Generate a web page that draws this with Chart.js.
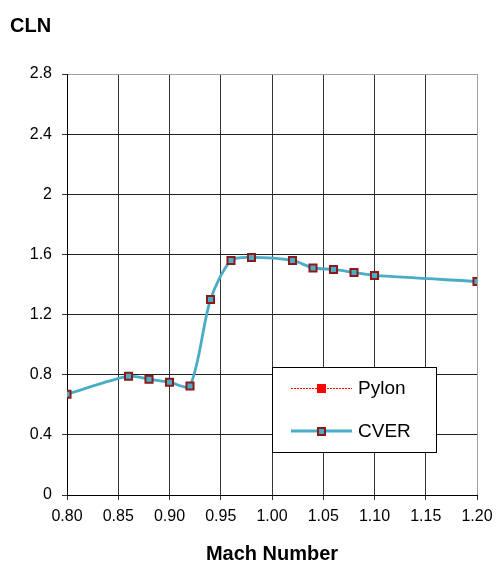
<!DOCTYPE html>
<html>
<head>
<meta charset="utf-8">
<script src="https://cdn.jsdelivr.net/npm/chart.js@4.4.1/dist/chart.umd.min.js"></script>
<style>
  html, body { margin: 0; padding: 0; background: #fff; }
  #wrap { width: 496px; height: 564px; position: relative; }
</style>
</head>
<body>
<div id="wrap"><canvas id="cln-chart"></canvas></div>
<script>
const machNumbers = [0.80, 0.86, 0.88, 0.90, 0.92, 0.94, 0.96, 0.98, 1.02, 1.04, 1.06, 1.08, 1.10, 1.20];
const cverValues = [0.67, 0.79, 0.77, 0.75, 0.725, 1.30, 1.56, 1.58, 1.56, 1.51, 1.50, 1.48, 1.46, 1.42];
const pylonValues = [];
const seriesNames = ["Pylon", "CVER"];

const cverColor = "#4bacc6";
const markerBorder = "#8b1a1a";
const pylonColor = "#ff0000";

// Titles drawn on canvas (CLN top left, Mach Number below x ticks)
const titlesPlugin = {
  id: "titles",
  afterDraw(chart) {
    const ctx = chart.ctx;
    ctx.save();
    ctx.fillStyle = "#000";
    ctx.font = "bold 20px 'Liberation Sans', Arial, sans-serif";
    ctx.textBaseline = "middle";
    ctx.textAlign = "left";
    ctx.fillText("CLN", 10, 26);
    ctx.textAlign = "center";
    ctx.fillText("Mach Number", 272, 554);
    ctx.restore();
  },
};

// Excel style legend box sitting inside the plot
const boxLegendPlugin = {
  id: "boxLegend",
  afterDraw(chart) {
    const ctx = chart.ctx;
    const x0 = 272, y0 = 367, w = 164, h = 85;
    ctx.save();
    ctx.fillStyle = "#fff";
    ctx.fillRect(x0, y0, w, h);
    ctx.strokeStyle = "#000";
    ctx.lineWidth = 1;
    ctx.strokeRect(x0 + 0.5, y0 + 0.5, w, h);

    const rows = [y0 + 21, y0 + 64];
    // Pylon
    ctx.strokeStyle = pylonColor;
    ctx.lineWidth = 1;
    ctx.setLineDash([2, 1]);
    ctx.beginPath();
    ctx.moveTo(291, rows[0] + 0.5);
    ctx.lineTo(352, rows[0] + 0.5);
    ctx.stroke();
    ctx.setLineDash([]);
    ctx.fillStyle = pylonColor;
    ctx.fillRect(317, rows[0] - 4, 9, 9);
    // CVER
    ctx.strokeStyle = cverColor;
    ctx.lineWidth = 3;
    ctx.beginPath();
    ctx.moveTo(291, rows[1]);
    ctx.lineTo(352, rows[1]);
    ctx.stroke();
    ctx.fillStyle = cverColor;
    ctx.fillRect(318, rows[1] - 3, 7, 7);
    ctx.strokeStyle = markerBorder;
    ctx.lineWidth = 2;
    ctx.strokeRect(318, rows[1] - 3, 7, 7);

    ctx.fillStyle = "#000";
    ctx.font = "19px 'Liberation Sans', Arial, sans-serif";
    ctx.textAlign = "left";
    ctx.textBaseline = "middle";
    ctx.fillText(seriesNames[0], 358, rows[0] + 1);
    ctx.fillText(seriesNames[1], 358, rows[1] + 1);
    ctx.restore();
  },
};

const tickFont = { family: "'Liberation Sans', Arial, sans-serif", size: 16 };

const config = {
  type: "line",
  data: {
    datasets: [
      {
        label: seriesNames[0],
        data: pylonValues,
        borderColor: pylonColor,
        backgroundColor: pylonColor,
        borderWidth: 1,
        borderDash: [2, 1],
        pointStyle: "rect",
        pointRadius: 4,
      },
      {
        label: seriesNames[1],
        data: machNumbers.map((m, i) => ({ x: m, y: cverValues[i] })),
        borderColor: cverColor,
        borderWidth: 2.8,
        tension: 0.28,
        pointStyle: "rect",
        pointRadius: 5,
        pointBackgroundColor: cverColor,
        pointBorderColor: markerBorder,
        pointBorderWidth: 2,
      },
    ],
  },
  options: {
    responsive: true,
    maintainAspectRatio: false,
    animation: false,
    layout: { autoPadding: false, padding: { top: 74, right: 19, left: 0, bottom: 0 } },
    plugins: {
      legend: { display: false },
      tooltip: { enabled: false },
    },
    scales: {
      x: {
        type: "linear",
        min: 0.8,
        max: 1.2,
        ticks: {
          stepSize: 0.05,
          color: "#000",
          font: tickFont,
          padding: 7,
          maxRotation: 0,
          callback: (v) => v.toFixed(2),
        },
        grid: {
          color: (c) => (c.index === 8 ? "#a0a0a0" : "#333"),
          tickColor: "#333",
          tickLength: 5,
        },
        border: { color: "#000" },
        afterFit(scale) {
          scale.height = 69;
          scale.paddingLeft = 0;
          scale.paddingRight = 0;
        },
      },
      y: {
        min: 0,
        max: 2.8,
        ticks: {
          stepSize: 0.4,
          color: "#000",
          font: tickFont,
          padding: 10,
          callback: (v) => (v === 0 ? "0" : Number(v.toFixed(1)).toString()),
        },
        grid: {
          color: (c) => (c.index === 7 ? "#a0a0a0" : "#222"),
          tickColor: "#333",
          tickLength: 5,
        },
        border: { color: "#000" },
        afterFit(scale) {
          scale.width = 67;
        },
      },
    },
  },
  plugins: [titlesPlugin, boxLegendPlugin],
};

const clnChart = new Chart(document.getElementById("cln-chart").getContext("2d"), config);
</script>
</body>
</html>
